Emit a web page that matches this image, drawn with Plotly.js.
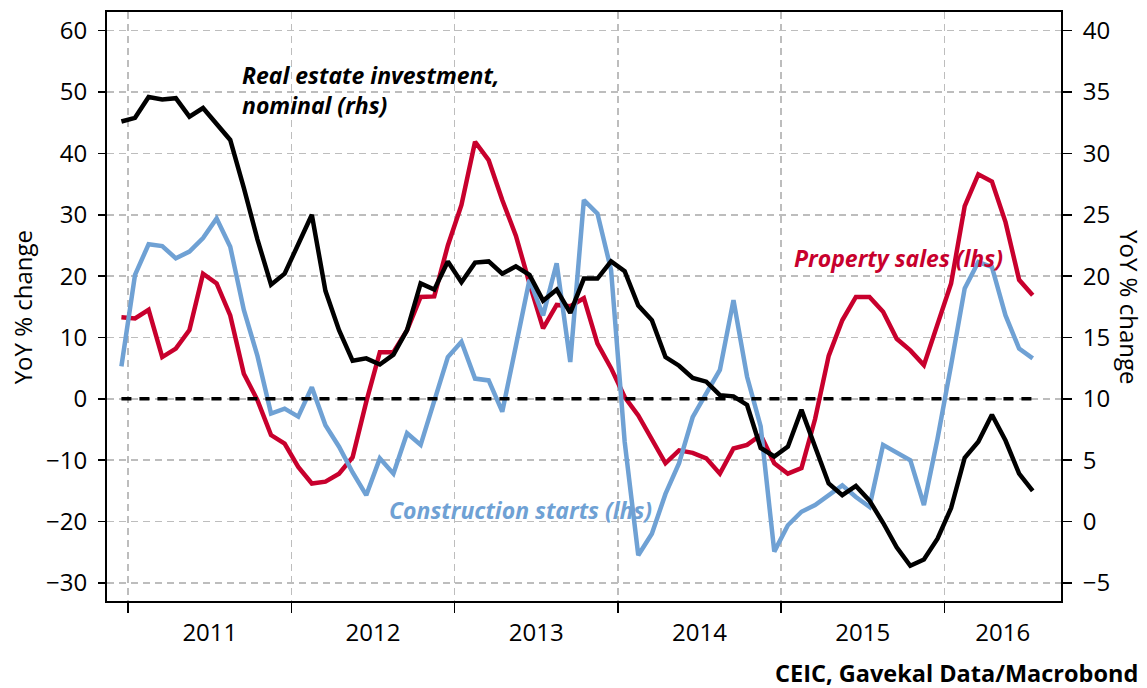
<!DOCTYPE html>
<html>
<head>
<meta charset="utf-8">
<script src="https://cdn.plot.ly/plotly-3.0.1.min.js"></script>
<style>
  html, body { margin: 0; padding: 0; background: #fff; }
  #chart { width: 1147px; height: 688px; }
</style>
</head>
<body>
<div id="chart"></div>
<script>
// China property: monthly YoY % change, Dec 2010 .. Jul 2016
const startYear = 2010, startMonth = 12;

// lhs series
const propertySales = [
  13.3, 13.1, 14.5, 6.8, 8.2, 11.2, 20.4, 18.8, 13.6, 4.1,
  -0.2, -5.9, -7.3, -11.1, -13.8, -13.5, -12.2, -9.5, -0.5, 7.6,
  7.6, 11.2, 16.6, 16.7, 25.0, 31.6, 41.9, 38.9, 32.4, 26.6,
  18.8, 11.5, 15.3, 15.1, 16.4, 9.0, 5.0, 0.3, -2.7, -6.7,
  -10.5, -8.4, -8.8, -9.7, -12.2, -8.1, -7.5, -5.9, -10.5, -12.2,
  -11.3, -3.3, 7.0, 12.8, 16.6, 16.6, 14.2, 9.8, 7.9, 5.5,
  12.0, 18.8, 31.4, 36.6, 35.4, 28.8, 19.4, 16.9
];
const constructionStarts = [
  5.3, 20.2, 25.2, 24.9, 22.9, 24.0, 26.2, 29.4, 24.8, 14.5,
  7.0, -2.4, -1.6, -2.9, 1.9, -4.3, -7.8, -12.0, -15.7, -9.7,
  -12.2, -5.6, -7.5, -0.2, 6.8, 9.3, 3.3, 3.0, -2.1, 8.6,
  19.4, 13.6, 22.1, 6.0, 32.4, 30.2, 21.0, -7.0, -25.5, -22.0,
  -15.5, -10.5, -3.0, 0.9, 4.7, 16.1, 3.6, -4.5, -24.9, -20.6,
  -18.4, -17.3, -15.7, -14.1, -16.0, -17.6, -7.5, -8.7, -10.0, -17.3,
  -6.5, 5.5, 18.0, 22.3, 21.5, 13.6, 8.2, 6.6
];
// rhs series
const realEstateInv = [
  32.6, 32.9, 34.6, 34.4, 34.5, 33.0, 33.7, 32.4, 31.1, 27.2,
  23.0, 19.3, 20.2, 22.6, 25.0, 18.8, 15.6, 13.1, 13.3, 12.8,
  13.6, 15.6, 19.4, 18.9, 21.2, 19.5, 21.1, 21.2, 20.2, 20.8,
  20.1, 18.0, 18.9, 17.0, 19.8, 19.8, 21.2, 20.4, 17.6, 16.4,
  13.4, 12.7, 11.7, 11.4, 10.3, 10.2, 9.5, 6.0, 5.3, 6.1,
  9.1, 6.1, 3.1, 2.15, 2.9, 1.7, -0.1, -2.1, -3.6, -3.1,
  -1.4, 1.1, 5.2, 6.5, 8.7, 6.6, 3.9, 2.5
];

const years = [2011, 2012, 2013, 2014, 2015, 2016];
const yearLabels = ['2011', '2012', '2013', '2014', '2015', '2016'];
const leftTicks = [-30, -20, -10, 0, 10, 20, 30, 40, 50, 60];
const rightTicks = [-5, 0, 5, 10, 15, 20, 25, 30, 35, 40];

// month -> decimal year at mid-month
const months = [];
for (let i = 0; i < propertySales.length; i++) {
  const m0 = startMonth - 1 + i;
  months.push({ y: startYear + Math.floor(m0 / 12), m: (m0 % 12) + 1 });
}
const xs = months.map(d => d.y + (d.m - 0.5) / 12);

const X_RANGE = [2010.870, 2016.715];
const YL_RANGE = [-32.95, 63.05];
const YR_RANGE = [YL_RANGE[0] / 2 + 10, YL_RANGE[1] / 2 + 10];

// year label positions: middle of each year, last one clipped to axis end
const labelPos = years.map(y => Math.min(y + 0.5, (y + X_RANGE[1]) / 2));

const RED = '#c8002d';
const BLUE = '#6fa1d4';
const FONT = 'Open Sans, sans-serif';
const TICK_SIZE = 24;
const NOTE_SIZE = 23;

const data = [
  { x: [xs[0], xs[xs.length - 1]], y: [0, 0], xaxis: 'x2', yaxis: 'y', mode: 'lines',
    line: { color: '#000', width: 3.5, dash: '10px,8px' }, hoverinfo: 'skip' },
  { x: xs, y: propertySales, xaxis: 'x', yaxis: 'y', mode: 'lines', name: 'Property sales (lhs)',
    line: { color: RED, width: 4.5 } },
  { x: xs, y: constructionStarts, xaxis: 'x', yaxis: 'y', mode: 'lines', name: 'Construction starts (lhs)',
    line: { color: BLUE, width: 4.5 } },
  { x: xs, y: realEstateInv, xaxis: 'x', yaxis: 'y2', mode: 'lines', name: 'Real estate investment, nominal (rhs)',
    line: { color: '#000', width: 4.5 } }
];

const grid = { showgrid: true, gridcolor: '#bdbdbd', gridwidth: 1.5, griddash: '7px,5px' };

const layout = {
  width: 1147, height: 688,
  margin: { l: 107, r: 86, t: 12, b: 87 },
  paper_bgcolor: '#fff', plot_bgcolor: '#fff',
  showlegend: false,
  font: { family: FONT, size: TICK_SIZE, color: '#000' },
  xaxis: Object.assign({
    range: X_RANGE, tickmode: 'array', tickvals: years, showticklabels: false,
    ticks: 'outside', ticklen: 10, tickwidth: 1.5, tickcolor: '#000',
    showline: true, linecolor: '#000', linewidth: 2, mirror: true, zeroline: false
  }, grid),
  xaxis2: {
    overlaying: 'x', anchor: 'y', side: 'bottom', range: X_RANGE,
    tickmode: 'array', tickvals: labelPos, ticktext: yearLabels,
    ticks: 'outside', ticklen: 10, tickcolor: 'rgba(0,0,0,0)',
    showgrid: false, zeroline: false, showline: false,
    tickfont: { family: FONT, size: TICK_SIZE, color: '#000' }
  },
  yaxis: Object.assign({
    range: YL_RANGE, tickmode: 'array', tickvals: leftTicks,
    ticks: 'outside', ticklen: 7, tickwidth: 1.5, tickcolor: '#000',
    showline: true, linecolor: '#000', linewidth: 2, zeroline: false,
    ticklabelstandoff: 6,
    tickfont: { family: FONT, size: TICK_SIZE, color: '#000' }
  }, grid),
  yaxis2: {
    overlaying: 'y', side: 'right', anchor: 'x', range: YR_RANGE,
    tickmode: 'array', tickvals: rightTicks,
    ticks: 'outside', ticklen: 9, tickwidth: 1.5, tickcolor: '#000',
    showline: true, linecolor: '#000', linewidth: 2, showgrid: false, zeroline: false,
    ticklabelstandoff: 6,
    tickfont: { family: FONT, size: TICK_SIZE, color: '#000' }
  },
  annotations: [
    { xref: 'x', yref: 'y', x: 2011.686, y: 50.3, xanchor: 'left', yanchor: 'middle', align: 'left',
      showarrow: false, text: '<b><i>Real estate investment,<br>nominal (rhs)</i></b>',
      font: { family: FONT, size: NOTE_SIZE, color: '#000' } },
    { xref: 'x', yref: 'y', x: 2015.066, y: 22.9, xanchor: 'left', yanchor: 'middle',
      showarrow: false, text: '<b><i>Property sales (lhs)</i></b>',
      font: { family: FONT, size: NOTE_SIZE, color: RED } },
    { xref: 'x', yref: 'y', x: 2012.586, y: -18.1, xanchor: 'left', yanchor: 'middle',
      showarrow: false, text: '<b><i>Construction starts (lhs)</i></b>',
      font: { family: FONT, size: NOTE_SIZE, color: BLUE } },
    { xref: 'paper', yref: 'paper', x: -0.0888, y: 0.499, textangle: -90,
      xanchor: 'center', yanchor: 'middle', showarrow: false, text: 'YoY % change',
      font: { family: FONT, size: 24, color: '#000' } },
    { xref: 'paper', yref: 'paper', x: 1.0723, y: 0.499, textangle: 90,
      xanchor: 'center', yanchor: 'middle', showarrow: false, text: 'YoY % change',
      font: { family: FONT, size: 24, color: '#000' } },
    { xref: 'paper', yref: 'paper', x: 1.0828, y: -0.1228, xanchor: 'right', yanchor: 'middle',
      showarrow: false, text: '<b>CEIC, Gavekal Data/Macrobond</b>',
      font: { family: FONT, size: 23.5, color: '#000' } }
  ]
};

Plotly.newPlot('chart', data, layout, { displayModeBar: false, staticPlot: true });
</script>
</body>
</html>
